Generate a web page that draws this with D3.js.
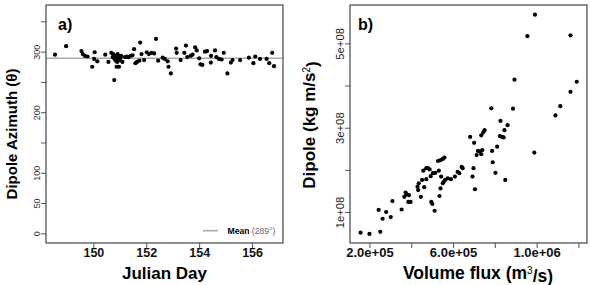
<!DOCTYPE html>
<html>
<head>
<meta charset="utf-8">
<script src="https://cdn.jsdelivr.net/npm/d3@7"></script>
<style>
  body { margin: 0; background: #fff; }
  svg { font-family: "Liberation Sans", Arial, sans-serif; }
  .tick line { stroke: #555; }
</style>
</head>
<body>
<svg id="fig" width="590" height="285"></svg>
<script>
// panel a: dipole azimuth by julian day
const julianDay = [148.55, 148.97, 149.55, 149.6, 149.68, 149.78, 149.96, 150.05, 150.03, 150.15,
  150.45, 150.57, 150.68, 150.73, 150.79, 150.75, 150.8, 150.82, 150.85, 150.88,
  150.9, 150.92, 150.95, 150.98, 151.0, 151.03, 150.88, 150.97, 151.1, 151.05,
  151.2, 151.26, 151.33, 151.42, 151.48, 151.54, 151.59, 151.65, 151.77, 151.74,
  151.92, 151.82, 152.02, 152.1, 152.2, 152.3, 152.37, 152.45, 152.62, 152.7,
  152.81, 152.84, 152.93, 153.13, 153.15, 153.3, 153.44, 153.5, 153.55, 153.68,
  153.75, 153.85, 153.91, 154.0, 154.05, 154.12, 154.22, 154.3, 154.44, 154.45,
  154.6, 154.65, 154.75, 154.85, 154.93, 155.07, 155.2, 155.26, 155.55, 155.88,
  156.05, 156.12, 156.3, 156.55, 156.65, 156.76, 156.83];
const azimuth = [295, 309, 301, 296, 293, 292, 275, 299, 288, 284,
  295, 283, 298, 291, 253, 296, 288, 293, 285, 290,
  283, 296, 289, 292, 286, 290, 275, 275, 283, 293,
  291, 292, 291, 293, 294, 304, 281, 283, 315, 285,
  286, 296, 299, 296, 298, 297, 321, 285, 290, 288,
  284, 275, 264, 305, 298, 286, 298, 310, 291, 293,
  295, 307, 302, 289, 279, 278, 300, 301, 282, 293,
  302, 291, 288, 287, 298, 264, 282, 286, 286, 290,
  281, 292, 288, 288, 281, 298, 276];
const meanAzimuth = 289;
const azTicks = [0, 50, 100, 150, 200, 250, 300, 350];
const azLabels = [0, 50, 100, 200, 300];
const dayTicks = [150, 152, 154, 156];

// panel b: dipole vs volume flux
const volumeFlux = [1.575e5, 2.0e5, 2.44e5, 2.52e5, 2.63e5, 2.8e5, 3.02e5, 3.1e5, 3.54e5,
  3.67e5, 3.73e5, 3.78e5, 3.86e5, 3.97e5, 3.89e5, 4.3e5, 4.33e5, 4.36e5,
  4.46e5, 4.52e5, 4.62e5, 4.58e5, 4.72e5, 4.8e5, 4.88e5, 4.72e5, 4.93e5, 5.04e5,
  4.96e5, 5.01e5, 5.12e5, 5.15e5, 5.28e5, 5.4e5, 5.51e5, 5.59e5,
  5.32e5, 5.43e5, 5.56e5, 5.51e5, 5.35e5, 5.4e5, 5.62e5, 5.75e5, 5.9e5, 6.09e5,
  6.22e5, 6.3e5, 6.41e5, 6.46e5, 6.82e5, 6.93e5, 6.98e5, 7.01e5, 7.05e5,
  7.13e5, 7.19e5, 7.29e5, 7.4e5, 7.35e5, 7.35e5, 7.45e5, 7.51e5,
  7.83e5, 7.87e5, 7.9e5, 8.03e5, 8.11e5, 8.27e5, 8.24e5, 8.35e5, 8.42e5,
  8.46e5, 8.5e5, 8.61e5, 8.87e5, 8.94e5, 9.56e5, 9.92e5, 9.89e5,
  10.9e5, 11.13e5, 11.62e5, 11.62e5, 11.92e5];
const dipole = [0.51e8, 0.48e8, 1.05e8, 0.53e8, 0.84e8, 1.0e8, 0.88e8, 1.26e8, 1.06e8,
  1.36e8, 1.46e8, 1.42e8, 1.24e8, 1.24e8, 1.40e8, 1.6e8, 1.52e8, 1.68e8,
  1.36e8, 1.76e8, 1.59e8, 1.98e8, 2.04e8, 2.04e8, 2.01e8, 1.78e8, 1.85e8, 1.92e8,
  1.24e8, 1.19e8, 1.03e8, 1.93e8, 2.21e8, 2.23e8, 2.26e8, 2.29e8,
  1.98e8, 1.84e8, 1.72e8, 1.68e8, 1.38e8, 1.56e8, 1.76e8, 1.80e8, 1.78e8, 1.84e8,
  1.95e8, 1.92e8, 2.07e8, 2.04e8, 2.78e8, 1.84e8, 2.04e8, 2.64e8, 1.54e8,
  2.35e8, 2.45e8, 2.43e8, 2.47e8, 2.37e8, 2.82e8, 2.89e8, 2.94e8,
  3.46e8, 2.45e8, 2.18e8, 1.93e8, 2.55e8, 3.16e8, 2.8e8, 2.78e8, 2.77e8,
  2.94e8, 1.76e8, 3.06e8, 3.45e8, 4.14e8, 5.17e8, 5.68e8, 2.41e8,
  3.29e8, 3.51e8, 5.19e8, 3.85e8, 4.09e8];
const fluxTicks = [2e5, 4e5, 6e5, 8e5, 10e5, 12e5];
const fluxLabels = { 2e5: "2.0e+05", 6e5: "6.0e+05", 10e5: "1.0e+06" };
const dipoleTicks = [1e8, 2e8, 3e8, 4e8, 5e8];
const dipoleLabels = { 1e8: "1e+08", 3e8: "3e+08", 5e8: "5e+08" };

const svg = d3.select("#fig");
const plotTop = 5, plotBottom = 243;

// ---- panel a ----
const xA = d3.scaleLinear().domain([148.21, 157.17]).range([46, 283]);
const yA = d3.scaleLinear().domain([-16, 377]).range([plotBottom, plotTop]);

const gA = svg.append("g");

gA.append("line")
  .attr("x1", xA.range()[0]).attr("x2", xA.range()[1])
  .attr("y1", yA(meanAzimuth)).attr("y2", yA(meanAzimuth))
  .attr("stroke", "#aaa").attr("stroke-width", 1.6);

gA.selectAll(".pt").data(julianDay.map((d, i) => [d, azimuth[i]]))
  .enter().append("circle")
  .attr("cx", d => xA(d[0]))
  .attr("cy", d => yA(d[1]))
  .attr("r", 2.1)
  .attr("fill", "#000");

const axYA = gA.append("g")
  .attr("transform", `translate(${xA.range()[0]},0)`)
  .call(d3.axisLeft(yA).tickValues(azTicks).tickSize(5)
    .tickFormat(d => azLabels.includes(d) ? d : ""));
axYA.select(".domain").remove();
axYA.selectAll("text")
  .attr("x", null).attr("dy", null)
  .attr("transform", "translate(-6,0) rotate(-90)")
  .attr("text-anchor", "middle")
  .attr("font-size", 9)
  .attr("fill", "#333");

const axXA = gA.append("g")
  .attr("transform", `translate(0,${plotBottom})`)
  .call(d3.axisBottom(xA).tickValues(dayTicks).tickSize(5));
axXA.select(".domain").remove();
axXA.selectAll("text")
  .attr("y", 5)
  .attr("font-size", 12.5)
  .attr("font-weight", "bold")
  .attr("fill", "#111");

gA.append("rect")
  .attr("x", 46).attr("y", plotTop).attr("width", 237).attr("height", plotBottom - plotTop)
  .attr("fill", "none").attr("stroke", "#444").attr("stroke-width", 1.2);

gA.append("text").attr("x", 58).attr("y", 30)
  .attr("font-size", 16).attr("font-weight", "bold").text("a)");

// legend
gA.append("line")
  .attr("x1", 203).attr("x2", 218).attr("y1", 230.7).attr("y2", 230.7)
  .attr("stroke", "#aaa").attr("stroke-width", 1.6);
const leg = gA.append("text").attr("x", 227.5).attr("y", 233.5).attr("font-size", 8.6);
leg.append("tspan").attr("font-weight", "bold").text("Mean ");
leg.append("tspan").attr("fill", "#666").text(`(${meanAzimuth}°)`);

gA.append("text")
  .attr("transform", "translate(17,134) rotate(-90)")
  .attr("text-anchor", "middle")
  .attr("font-size", 15).attr("font-weight", "bold")
  .text("Dipole Azimuth (θ)");

gA.append("text")
  .attr("x", 164.5).attr("y", 278.5)
  .attr("text-anchor", "middle")
  .attr("font-size", 17).attr("font-weight", "bold")
  .text("Julian Day");

// ---- panel b ----
const xB = d3.scaleLinear().domain([1.07e5, 12.41e5]).range([350, 587]);
const yB = d3.scaleLinear().domain([0.265e8, 5.91e8]).range([plotBottom, plotTop]);

const gB = svg.append("g");

gB.selectAll(".pt").data(volumeFlux.map((d, i) => [d, dipole[i]]))
  .enter().append("circle")
  .attr("cx", d => xB(d[0]))
  .attr("cy", d => yB(d[1]))
  .attr("r", 2.1)
  .attr("fill", "#000");

const axYB = gB.append("g")
  .attr("transform", `translate(${xB.range()[0]},0)`)
  .call(d3.axisLeft(yB).tickValues(dipoleTicks).tickSize(5)
    .tickFormat(d => dipoleLabels[d] || ""));
axYB.select(".domain").remove();
axYB.selectAll("text")
  .attr("x", null).attr("dy", null)
  .attr("transform", "translate(-6,0) rotate(-90)")
  .attr("text-anchor", "middle")
  .attr("font-size", 11.3)
  .attr("fill", "#222");

const axXB = gB.append("g")
  .attr("transform", `translate(0,${plotBottom})`)
  .call(d3.axisBottom(xB).tickValues(fluxTicks).tickSize(5)
    .tickFormat(d => fluxLabels[d] || ""));
axXB.select(".domain").remove();
axXB.selectAll("text")
  .attr("y", 5)
  .attr("font-size", 13)
  .attr("font-weight", "bold")
  .attr("fill", "#111");

gB.append("rect")
  .attr("x", 350).attr("y", plotTop).attr("width", 237).attr("height", plotBottom - plotTop)
  .attr("fill", "none").attr("stroke", "#444").attr("stroke-width", 1.2);

gB.append("text").attr("x", 358).attr("y", 30)
  .attr("font-size", 16).attr("font-weight", "bold").text("b)");

const ylB = gB.append("text")
  .attr("transform", "translate(314.5,125) rotate(-90)")
  .attr("text-anchor", "middle")
  .attr("font-size", 17).attr("font-weight", "bold");
ylB.append("tspan").text("Dipole (kg m/s");
ylB.append("tspan").attr("dy", "-0.45em").attr("font-size", 10).attr("font-weight", "normal").text("2");
ylB.append("tspan").attr("dy", "0.45em").text(")");

const xlB = gB.append("text")
  .attr("x", 478).attr("y", 278.5)
  .attr("text-anchor", "middle")
  .attr("font-size", 17.5).attr("font-weight", "bold");
xlB.append("tspan").text("Volume flux (m");
xlB.append("tspan").attr("dy", "-0.45em").attr("font-size", 10).attr("font-weight", "normal").text("3");
xlB.append("tspan").attr("dy", "0.45em").text("/s)");
</script>
</body>
</html>
